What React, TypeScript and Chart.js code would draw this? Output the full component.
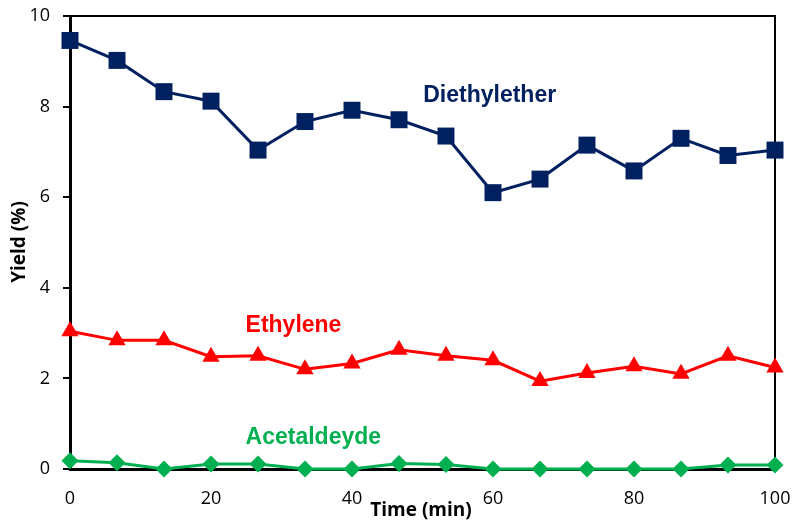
import React, { useEffect, useRef } from "react";
import { Chart, registerables } from "chart.js";

Chart.register(...registerables);

const times = [0, 6.67, 13.33, 20, 26.67, 33.33, 40, 46.67, 53.33, 60, 66.67, 73.33, 80, 86.67, 93.33, 100];
const diethylether = [9.46, 9.02, 8.33, 8.12, 7.04, 7.67, 7.92, 7.71, 7.35, 6.1, 6.4, 7.15, 6.58, 7.3, 6.92, 7.04];
const ethylene = [3.04, 2.84, 2.84, 2.48, 2.5, 2.2, 2.33, 2.63, 2.5, 2.4, 1.94, 2.12, 2.27, 2.1, 2.5, 2.24];
const acetaldeyde = [0.18, 0.14, 0.0, 0.11, 0.11, 0.0, 0.0, 0.12, 0.1, 0.0, 0.0, 0.0, 0.0, 0.0, 0.09, 0.09];

const seriesNames = ["Diethylether", "Ethylene", "Acetaldeyde"];
const seriesColors = ["#002060", "#FF0000", "#00B050"];
const labelAnchors = [
  { x: 50.1, y: 8.25 },
  { x: 24.9, y: 3.17 },
  { x: 24.9, y: 0.7 },
];
const xTitle = "Time (min)";
const yTitle = "Yield (%)";

export default function App() {
  const ref = useRef<HTMLCanvasElement | null>(null);
  useEffect(() => {
    if (!ref.current) return;
    const toPts = (arr: number[]) => arr.map((v, i) => ({ x: times[i], y: v }));
    const framePlugin = {
      id: "frame",
      beforeDatasetsDraw(chart: any) {
        const { ctx, chartArea } = chart;
        ctx.save();
        ctx.strokeStyle = "#000";
        ctx.lineWidth = 2;
        ctx.beginPath();
        ctx.moveTo(chartArea.left, chartArea.top);
        ctx.lineTo(chartArea.right, chartArea.top);
        ctx.lineTo(chartArea.right, chartArea.bottom);
        ctx.stroke();
        ctx.restore();
      },
      afterDraw(chart: any) {
        const { ctx, scales } = chart;
        ctx.save();
        ctx.font = "bold 23px 'Liberation Sans', Arial, sans-serif";
        ctx.textBaseline = "middle";
        ctx.textAlign = "left";
        seriesNames.forEach((n, i) => {
          ctx.fillStyle = seriesColors[i];
          ctx.fillText(n, scales.x.getPixelForValue(labelAnchors[i].x), scales.y.getPixelForValue(labelAnchors[i].y));
        });
        ctx.fillStyle = "#000";
        ctx.font = "bold 19px 'Open Sans', sans-serif";
        ctx.textAlign = "center";
        ctx.fillText(xTitle, 421, 511);
        ctx.translate(20, 242);
        ctx.rotate(-Math.PI / 2);
        ctx.fillText(yTitle, 0, 0);
        ctx.restore();
      },
    };
    const chart = new Chart(ref.current, {
      type: "line",
      data: {
        datasets: [
          {
            label: seriesNames[0],
            data: toPts(diethylether),
            borderColor: seriesColors[0],
            backgroundColor: seriesColors[0],
            borderWidth: 3,
            pointStyle: "rect",
            pointRadius: 12,
            pointBorderWidth: 0,
            pointHoverRadius: 12,
          },
          {
            label: seriesNames[1],
            data: toPts(ethylene),
            borderColor: seriesColors[1],
            backgroundColor: seriesColors[1],
            borderWidth: 3,
            pointStyle: "triangle",
            pointRadius: 10,
            pointBorderWidth: 0,
          },
          {
            label: seriesNames[2],
            data: toPts(acetaldeyde),
            borderColor: seriesColors[2],
            backgroundColor: seriesColors[2],
            borderWidth: 3,
            pointStyle: "rectRot",
            pointRadius: 8.5,
            pointBorderWidth: 0,
          },
        ],
      },
      options: {
        animation: false,
        responsive: false,
        maintainAspectRatio: false,
        clip: false as any,
        layout: { autoPadding: false, padding: { top: 16, right: 19, left: 0, bottom: 0 } },
        plugins: { legend: { display: false }, tooltip: { enabled: false } },
        scales: {
          x: {
            type: "linear",
            min: 0,
            max: 100,
            afterFit(s: any) { s.height = 57; s.paddingLeft = 0; s.paddingRight = 0; },
            border: { display: true, color: "#000", width: 3 },
            grid: { display: true, drawOnChartArea: false, drawTicks: false, color: "#000" },
            ticks: { stepSize: 20, padding: 19, color: "#000", font: { family: "'Open Sans', sans-serif", size: 18 } },
          },
          y: {
            min: 0,
            max: 10,
            afterFit(s: any) { s.width = 70; s.paddingTop = 0; s.paddingBottom = 0; },
            border: { display: true, color: "#000", width: 3 },
            grid: { display: true, drawOnChartArea: false, drawTicks: true, tickLength: 7, color: "#000", lineWidth: 2 },
            ticks: { stepSize: 2, padding: 13, color: "#000", font: { family: "'Open Sans', sans-serif", size: 18 } },
          },
        },
      },
      plugins: [framePlugin],
    });
    return () => chart.destroy();
  }, []);
  return (
    <div style={{ position: "fixed", left: 0, top: 0, width: 794, height: 526, background: "#fff" }}>
      <canvas ref={ref} width={794} height={526} style={{ width: 794, height: 526 }} />
    </div>
  );
}
